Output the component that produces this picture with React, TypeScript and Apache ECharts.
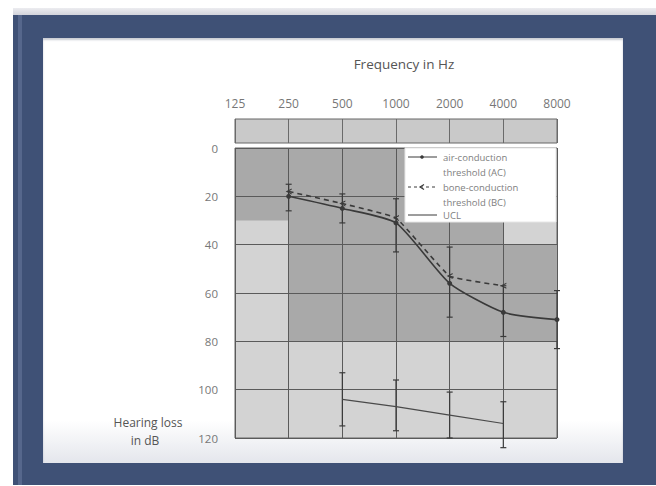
import React, { useEffect, useRef } from 'react';
import * as echarts from 'echarts';

const frequencies = ['125', '250', '500', '1000', '2000', '4000', '8000'];
const acThreshold = [null, 20, 25, 31, 56, 68, 71];
const acLow = [null, 15, 19, 21, 41, 57, 59];
const acHigh = [null, 26, 31, 43, 70, 78, 83];
const bcThreshold = [null, 18, 23, 29, 53, 57, null];
const uclValues = [null, null, 104, 107, 110.5, 114, null];
const uclLow = [null, null, 93, 96, 101, 105, null];
const uclHigh = [null, null, 115, 117, 120, 124, null];
const darkZones: [string, string, number, number][] = [
  ['125', '250', 0, 30],
  ['250', '4000', 0, 80],
  ['4000', '8000', 40, 80],
];

const FONT = 'Open Sans';
const INK = '#3a3a3a';

function barData(lo: (number | null)[], hi: (number | null)[]) {
  const out: number[][] = [];
  frequencies.forEach((_, i) => {
    if (lo[i] != null && hi[i] != null) out.push([i, lo[i] as number, hi[i] as number]);
  });
  return out;
}

function renderErrorBar(params: any, api: any) {
  const x = api.value(0);
  const p1 = api.coord([x, api.value(1)]);
  const p2 = api.coord([x, api.value(2)]);
  const w = 3;
  const st = { stroke: INK, lineWidth: 1.2 };
  return {
    type: 'group',
    children: [
      { type: 'line', shape: { x1: p1[0], y1: p1[1], x2: p2[0], y2: p2[1] }, style: st },
      { type: 'line', shape: { x1: p1[0] - w, y1: p1[1], x2: p1[0] + w, y2: p1[1] }, style: st },
      { type: 'line', shape: { x1: p2[0] - w, y1: p2[1], x2: p2[0] + w, y2: p2[1] }, style: st },
    ],
  };
}

export default function App() {
  const ref = useRef<HTMLDivElement>(null);

  useEffect(() => {
    if (!ref.current) return;
    const chart = echarts.init(ref.current, null, { renderer: 'svg' });
    const legendText = { fontSize: 9.5, fontFamily: FONT, fill: '#808080', lineHeight: 15 };
    const LX = 405;
    const LY = 148;
    chart.setOption({
      animation: false,
      backgroundColor: 'transparent',
      title: {
        text: 'Frequency in Hz',
        left: 399,
        top: 52,
        textAlign: 'center',
        textStyle: { fontSize: 13.5, fontWeight: 'normal', color: '#555', fontFamily: FONT },
      },
      grid: [
        { left: 235, right: 99, top: 119, height: 24, show: true, backgroundColor: '#c9c9c9', borderColor: '#666', borderWidth: 1 },
        { left: 235, right: 99, top: 148, bottom: 48, show: true, backgroundColor: '#d3d3d3', borderColor: '#666', borderWidth: 1 },
      ],
      xAxis: [
        {
          gridIndex: 0, type: 'category', data: frequencies, boundaryGap: false, position: 'top', z: 2,
          axisLine: { show: false }, axisTick: { show: false },
          axisLabel: { margin: 10, color: '#777', fontSize: 12, fontFamily: FONT },
          splitLine: { show: true, lineStyle: { color: '#6a6a6a', width: 1 } },
        },
        {
          gridIndex: 1, type: 'category', data: frequencies, boundaryGap: false, z: 2,
          axisLine: { show: false }, axisTick: { show: false }, axisLabel: { show: false },
          splitLine: { show: true, lineStyle: { color: '#5a5a5a', width: 1 } },
        },
      ],
      yAxis: [
        { gridIndex: 0, type: 'value', min: 0, max: 1, show: false },
        {
          gridIndex: 1, type: 'value', inverse: true, min: 0, max: 120, interval: 20, z: 2,
          axisLine: { show: false }, axisTick: { show: false },
          axisLabel: { margin: 17, color: '#777', fontSize: 11.5, fontFamily: FONT },
          splitLine: { show: true, lineStyle: { color: '#5a5a5a', width: 1 } },
        },
      ],
      series: [
        {
          type: 'line', xAxisIndex: 1, yAxisIndex: 1, data: [], silent: true,
          markArea: {
            z: 1,
            silent: true,
            itemStyle: { color: '#a9a9a9' },
            data: darkZones.map(([x0, x1, y0, y1]) => [{ xAxis: x0, yAxis: y0 }, { xAxis: x1, yAxis: y1 }]),
          },
        },
        {
          name: 'AC error', type: 'custom', xAxisIndex: 1, yAxisIndex: 1, z: 3, clip: false,
          renderItem: renderErrorBar, encode: { x: 0, y: [1, 2] }, data: barData(acLow, acHigh),
        },
        {
          name: 'UCL error', type: 'custom', xAxisIndex: 1, yAxisIndex: 1, z: 3, clip: false,
          renderItem: renderErrorBar, encode: { x: 0, y: [1, 2] }, data: barData(uclLow, uclHigh),
        },
        {
          name: 'air-conduction threshold (AC)', type: 'line', xAxisIndex: 1, yAxisIndex: 1, z: 4,
          data: acThreshold, smooth: 0.2, connectNulls: false,
          symbol: 'circle', symbolSize: 5,
          lineStyle: { color: INK, width: 1.6 }, itemStyle: { color: INK },
        },
        {
          name: 'bone-conduction threshold (BC)', type: 'line', xAxisIndex: 1, yAxisIndex: 1, z: 4,
          data: bcThreshold, smooth: 0.1,
          symbol: 'path://M8,0 L0,5 L8,10 L8,8 L3,5 L8,2 Z', symbolSize: 6,
          lineStyle: { color: INK, width: 1.6, type: [5, 4] }, itemStyle: { color: INK },
        },
        {
          name: 'UCL', type: 'line', xAxisIndex: 1, yAxisIndex: 1, z: 4,
          data: uclValues, symbol: 'none',
          lineStyle: { color: '#4a4a4a', width: 1.2 },
        },
      ],
      graphic: [
        {
          type: 'text', z: 100, x: 148, y: 422,
          style: { text: 'Hearing loss', align: 'center', verticalAlign: 'middle', fontSize: 12, fontFamily: FONT, fill: '#555' },
        },
        {
          type: 'text', z: 100, x: 145, y: 440,
          style: { text: 'in dB', align: 'center', verticalAlign: 'middle', fontSize: 12, fontFamily: FONT, fill: '#555' },
        },
        { type: 'rect', z: 100, shape: { x: LX, y: LY, width: 151, height: 74 }, style: { fill: '#ffffff', stroke: '#e6e6e6', lineWidth: 1 } },
        { type: 'line', z: 101, shape: { x1: LX + 3, y1: LY + 9, x2: LX + 32, y2: LY + 9 }, style: { stroke: INK, lineWidth: 1 } },
        { type: 'circle', z: 101, shape: { cx: LX + 17, cy: LY + 9, r: 1.8 }, style: { fill: INK } },
        { type: 'text', z: 101, x: LX + 38, y: LY + 1.5, style: { ...legendText, text: 'air-conduction\nthreshold (AC)' } },
        { type: 'line', z: 101, shape: { x1: LX + 3, y1: LY + 39, x2: LX + 32, y2: LY + 39 }, style: { stroke: INK, lineWidth: 1, lineDash: [3, 3] } },
        { type: 'polyline', z: 101, shape: { points: [[LX + 19, LY + 36.5], [LX + 15, LY + 39], [LX + 19, LY + 41.5]] }, style: { stroke: INK, lineWidth: 1.2, fill: 'none' } },
        { type: 'text', z: 101, x: LX + 38, y: LY + 31.5, style: { ...legendText, text: 'bone-conduction\nthreshold (BC)' } },
        { type: 'line', z: 101, shape: { x1: LX + 3, y1: LY + 67, x2: LX + 32, y2: LY + 67 }, style: { stroke: INK, lineWidth: 1 } },
        { type: 'text', z: 101, x: LX + 38, y: LY + 59.5, style: { ...legendText, text: 'UCL' } },
      ],
    });
    return () => chart.dispose();
  }, []);

  return (
    <div style={{ position: 'absolute', left: 0, top: 0, width: 656, height: 486, background: '#ffffff', overflow: 'hidden' }}>
      <div style={{ position: 'absolute', left: 13, top: 8, width: 643, height: 8, background: 'linear-gradient(#ececf0, #cfd0d8)' }} />
      <div style={{ position: 'absolute', left: 13, top: 15, width: 643, height: 470, background: '#3f5176' }} />
      <div style={{ position: 'absolute', left: 18, top: 15, width: 4, height: 470, background: '#56678c' }} />
      <div style={{ position: 'absolute', left: 43, top: 38, width: 580, height: 425, background: 'linear-gradient(180deg, #ffffff 0%, #ffffff 90%, #e4e6ec 100%)', boxShadow: 'inset 0 2px 2px rgba(40,50,80,0.25)' }} />
      <div ref={ref} style={{ position: 'absolute', left: 0, top: 0, width: 656, height: 486 }} />
    </div>
  );
}
